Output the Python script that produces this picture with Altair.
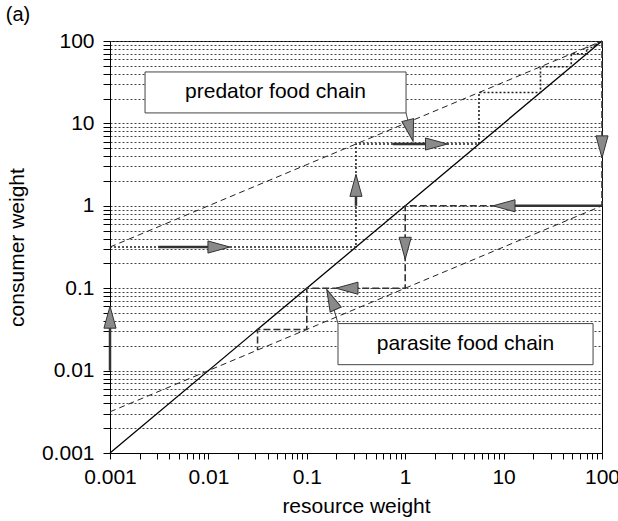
import altair as alt
import pandas as pd

FONT = "Liberation Sans"

# ---- axis ticks ----
decades = [0.001, 0.01, 0.1, 1, 10, 100]
minor_mult = [2, 3, 4, 5, 6, 7, 8, 9]
tick_values = sorted(decades + [d * m for d in decades[:-1] for m in minor_mult])

# ---- main lines (resource weight -> consumer weight) ----
diag_x = [0.001, 100]
diag_y = [0.001, 100]
pred_x = [0.001, 100]
pred_y = [0.316, 100]
para_x = [0.001, 100]
para_y = [0.00316, 1]

# ---- staircases ----
pred_start_x = 0.001
pred_steps = [0.316, 5.62, 23.7, 48.7, 69.8, 83.5, 91.4, 95.6]
para_steps = [100, 1, 0.1, 0.0316, 0.0178]

# ---- arrow heads ----
head_x = [0.001, 0.0128, 0.316, 2.08, 100, 10.1, 1, 0.256, 1.13, 0.177]
head_y = [0.0445, 0.316, 1.77, 5.62, 5.19, 1, 0.305, 0.1, 8.16, 0.073]
head_angle = [0, 90, 0, 90, 180, 270, 180, 270, 166, 336]

# ---- arrow shafts ----
shaft_x = [0.001, 0.0031, 0.316, 0.75, 13.1]
shaft_x2 = [0.001, 0.0099, 0.316, 1.63, 100]
shaft_y = [0.01, 0.316, 1.0, 5.62, 1]
shaft_y2 = [0.035, 0.316, 1.28, 5.62, 1]

# ---- callout boxes ----
box_label = ["predator food chain", "parasite food chain"]
box_x = [0.00227, 0.2075]
box_x2 = [1.02, 81.1]
box_y = [13.4, 0.0118]
box_y2 = [42.1, 0.0372]
box_text_x = [0.0481, 4.10]
box_text_y = [23.8, 0.0209]
call_x = [1.02, 0.2075]
call_x2 = [1.13, 0.177]
call_y = [13.4, 0.0372]
call_y2 = [8.16, 0.073]

# ---- tables ----
diag_df = pd.DataFrame({"x": diag_x, "y": diag_y, "o": range(len(diag_x))})
pred_df = pd.DataFrame({"x": pred_x, "y": pred_y, "o": range(len(pred_x))})
para_df = pd.DataFrame({"x": para_x, "y": para_y, "o": range(len(para_x))})

pp = [(pred_start_x, pred_steps[0])]
for i, s in enumerate(pred_steps):
    pp.append((s, s))
    if i + 1 < len(pred_steps):
        pp.append((s, pred_steps[i + 1]))
pred_stair = pd.DataFrame({"x": [p[0] for p in pp], "y": [p[1] for p in pp], "o": range(len(pp))})

qq = [(para_steps[0], para_steps[0])]
for i in range(1, len(para_steps)):
    qq.append((para_steps[i - 1], para_steps[i]))
    if i < len(para_steps) - 1:
        qq.append((para_steps[i], para_steps[i]))
para_stair = pd.DataFrame({"x": [p[0] for p in qq], "y": [p[1] for p in qq], "o": range(len(qq))})

head_df = pd.DataFrame({"x": head_x, "y": head_y, "angle": head_angle})
shaft_df = pd.DataFrame({"x": shaft_x, "x2": shaft_x2, "y": shaft_y, "y2": shaft_y2})
box_df = pd.DataFrame({"x": box_x, "x2": box_x2, "y": box_y, "y2": box_y2})
boxtext_df = pd.DataFrame({"x": box_text_x, "y": box_text_y, "label": box_label})
call_df = pd.DataFrame({"x": call_x, "x2": call_x2, "y": call_y, "y2": call_y2})

lab_expr = "indexof([0.001,0.01,0.1,1,10,100], datum.value) >= 0 ? datum.label : ''"

xs = alt.Scale(type="log", domain=[0.001, 100], nice=False)
ys = alt.Scale(type="log", domain=[0.001, 100], nice=False)

xaxis = alt.Axis(values=tick_values, labelExpr=lab_expr, format=".3~f", grid=False,
                 tickSize=6, tickColor="black", domainColor="black",
                 labelFont=FONT, labelFontSize=21, labelColor="black", labelPadding=7,
                 labelOverlap=False, labelFlush=False,
                 title="resource weight", titleFont=FONT, titleFontSize=21,
                 titleFontWeight="normal", titleColor="black",
                 titleX=246, titleY=59, titleBaseline="alphabetic", titleAlign="center")
yaxis = alt.Axis(values=tick_values, labelExpr=lab_expr, format=".3~f", grid=True,
                 gridDash=[2, 2], gridColor="#444", gridWidth=1, gridOpacity=1,
                 tickSize=7, tickColor="black", domainColor="black",
                 labelFont=FONT, labelFontSize=21, labelColor="black", labelPadding=9,
                 labelOverlap=False, labelFlush=False,
                 title="consumer weight", titleFont=FONT, titleFontSize=21,
                 titleFontWeight="normal", titleColor="black", titleAngle=270,
                 titleX=-87, titleY=206, titleBaseline="alphabetic", titleAlign="center")

X = alt.X("x:Q", scale=xs, axis=xaxis)
Y = alt.Y("y:Q", scale=ys, axis=yaxis)

diag = alt.Chart(diag_df).mark_line(color="black", strokeWidth=1.3).encode(x=X, y=Y, order="o:Q")
pred = alt.Chart(pred_df).mark_line(color="#222", strokeWidth=1, strokeDash=[6, 4]).encode(x=X, y=Y, order="o:Q")
para = alt.Chart(para_df).mark_line(color="#222", strokeWidth=1, strokeDash=[6, 4]).encode(x=X, y=Y, order="o:Q")
pstair = alt.Chart(pred_stair).mark_line(color="#222", strokeWidth=1.6, strokeDash=[2, 2]).encode(x=X, y=Y, order="o:Q")
qstair = alt.Chart(para_stair).mark_line(color="#333", strokeWidth=1.6, strokeDash=[7, 3]).encode(x=X, y=Y, order="o:Q")
shafts = alt.Chart(shaft_df).mark_rule(color="#333", strokeWidth=2.5).encode(x=X, y=Y, x2="x2:Q", y2="y2:Q")
boxes = alt.Chart(box_df).mark_rect(fill="white", stroke="#444", strokeWidth=1).encode(x=X, y=Y, x2="x2:Q", y2="y2:Q")
calls = alt.Chart(call_df).mark_rule(color="#444", strokeWidth=1).encode(x=X, y=Y, x2="x2:Q", y2="y2:Q")
heads = alt.Chart(head_df).mark_point(shape="M0,-1L0.55,1L-0.55,1Z", size=484, filled=True,
                                      fill="#8a8a8a", stroke="#333", strokeWidth=1,
                                      opacity=1, fillOpacity=1).encode(
    x=X, y=Y, angle=alt.Angle("angle:Q", scale=None))
btext = alt.Chart(boxtext_df).mark_text(font=FONT, fontSize=21, color="black",
                                        align="center", baseline="middle").encode(
    x=X, y=Y, text="label:N")
tag = alt.Chart(pd.DataFrame({"t": ["(a)"]})).mark_text(
    font=FONT, fontSize=20, color="black", align="center", baseline="middle").encode(
    x=alt.value(-92), y=alt.value(-26), text="t:N")

chart = alt.layer(diag, pred, para, pstair, qstair, shafts, boxes, calls, heads, btext, tag).properties(
    width=492, height=412,
    padding={"left": 110, "top": 41, "right": 16, "bottom": 68},
    autosize=alt.AutoSizeParams(type="none"),
).configure_view(stroke="black", strokeWidth=1)

chart.save("out.html", embed_options={"renderer": "svg", "actions": False})
